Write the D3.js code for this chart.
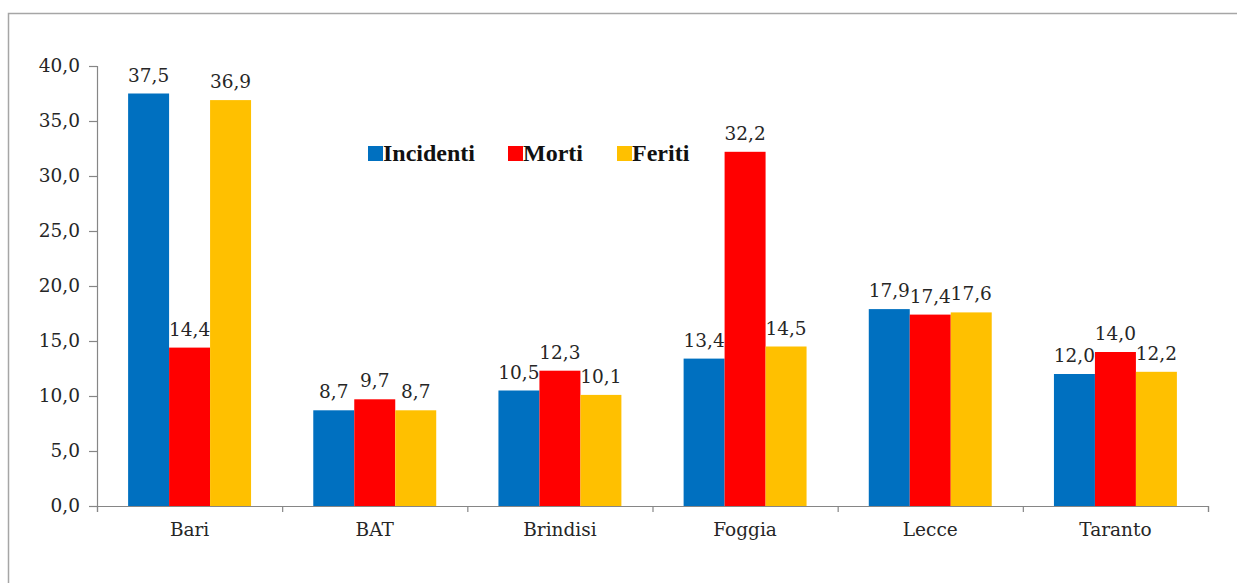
<!DOCTYPE html>
<html>
<head>
<meta charset="utf-8">
<script src="https://cdn.jsdelivr.net/npm/d3@7"></script>
<style>
  html, body { margin: 0; padding: 0; background: #fff; }
  svg { display: block; }
</style>
</head>
<body>
<script>
// ---- Data ----
const categories = ["Bari", "BAT", "Brindisi", "Foggia", "Lecce", "Taranto"];
const seriesNames = ["Incidenti", "Morti", "Feriti"];
const incidenti = [37.5, 8.7, 10.5, 13.4, 17.9, 12.0];
const morti = [14.4, 9.7, 12.3, 32.2, 17.4, 14.0];
const feriti = [36.9, 8.7, 10.1, 14.5, 17.6, 12.2];
const yTicks = [0, 5, 10, 15, 20, 25, 30, 35, 40];

const seriesValues = { "Incidenti": incidenti, "Morti": morti, "Feriti": feriti };
const colors = { "Incidenti": "#0070C0", "Morti": "#FF0000", "Feriti": "#FFC000" };

const W = 1237, H = 583;
const svg = d3.select("body").append("svg").attr("width", W).attr("height", H);

// outer frame (only top and left edges visible)
svg.append("path")
  .attr("d", `M8.5,${H} L8.5,13.5 L${W},13.5`)
  .attr("fill", "none").attr("stroke", "#a6a6a6").attr("stroke-width", 1.5);

const plot = { left: 97, right: 1208, top: 66, bottom: 506 };

const y = d3.scaleLinear().domain([0, 40]).range([plot.bottom, plot.top]);
const p = 0.336;
const x0 = d3.scaleBand().domain(categories).range([plot.left, plot.right])
  .paddingInner(p).paddingOuter(p / 2);
const x1 = d3.scaleBand().domain(seriesNames).range([0, x0.bandwidth()]);

const itLocale = d3.formatLocale({ decimal: ",", thousands: ".", grouping: [3], currency: ["", "€"] });
const fmt = itLocale.format(".1f");

const numFont = "'DejaVu Serif', serif";
const fs = 18.5;

// Y axis
const yAxis = svg.append("g").attr("transform", `translate(${plot.left},0)`)
  .call(d3.axisLeft(y).tickValues(yTicks).tickFormat(fmt).tickSize(8).tickPadding(9));
yAxis.select(".domain").attr("stroke", "#868686").attr("stroke-width", 1.2);
yAxis.selectAll(".tick line").attr("stroke", "#868686").attr("stroke-width", 1.2);
yAxis.selectAll(".tick text").attr("font-family", numFont).attr("font-size", fs).attr("fill", "#262626");

// X axis: boundary ticks
const xb = d3.scaleLinear().domain([0, categories.length]).range([plot.left, plot.right]);
const xAxisB = svg.append("g").attr("transform", `translate(0,${plot.bottom})`)
  .call(d3.axisBottom(xb).tickValues(d3.range(categories.length + 1)).tickFormat("").tickSize(6).tickSizeOuter(6));
xAxisB.select(".domain").attr("stroke", "#868686").attr("stroke-width", 1.2);
xAxisB.selectAll(".tick line").attr("stroke", "#868686").attr("stroke-width", 1.2);

// X axis: category labels
const xAxisL = svg.append("g").attr("transform", `translate(0,${plot.bottom})`)
  .call(d3.axisBottom(x0).tickSize(0).tickPadding(17));
xAxisL.select(".domain").remove();
xAxisL.selectAll(".tick text").attr("font-family", numFont).attr("font-size", fs).attr("fill", "#262626");

// Bars
const groups = svg.append("g").selectAll("g").data(categories).join("g")
  .attr("transform", d => `translate(${x0(d)},0)`);

groups.selectAll("rect")
  .data((c, i) => seriesNames.map(s => ({ s, v: seriesValues[s][i] })))
  .join("rect")
  .attr("x", d => x1(d.s))
  .attr("y", d => y(d.v))
  .attr("width", x1.bandwidth())
  .attr("height", d => y(0) - y(d.v))
  .attr("fill", d => colors[d.s]);

groups.selectAll("text")
  .data((c, i) => seriesNames.map(s => ({ s, v: seriesValues[s][i] })))
  .join("text")
  .attr("x", d => x1(d.s) + x1.bandwidth() / 2)
  .attr("y", d => y(d.v) - 12)
  .attr("text-anchor", "middle")
  .attr("font-family", numFont)
  .attr("font-size", fs)
  .attr("fill", "#262626")
  .text(d => fmt(d.v));

// Legend
const legendX = [368, 508, 617];
const legend = svg.append("g");
seriesNames.forEach((s, i) => {
  const g = legend.append("g").attr("transform", `translate(${legendX[i]},146)`);
  g.append("rect").attr("width", 15).attr("height", 15).attr("fill", colors[s]);
  g.append("text").attr("x", 15).attr("y", 15)
    .attr("font-family", "'Liberation Serif', serif")
    .attr("font-weight", "bold")
    .attr("font-size", 24)
    .attr("fill", "#111")
    .text(s);
});
</script>
</body>
</html>
